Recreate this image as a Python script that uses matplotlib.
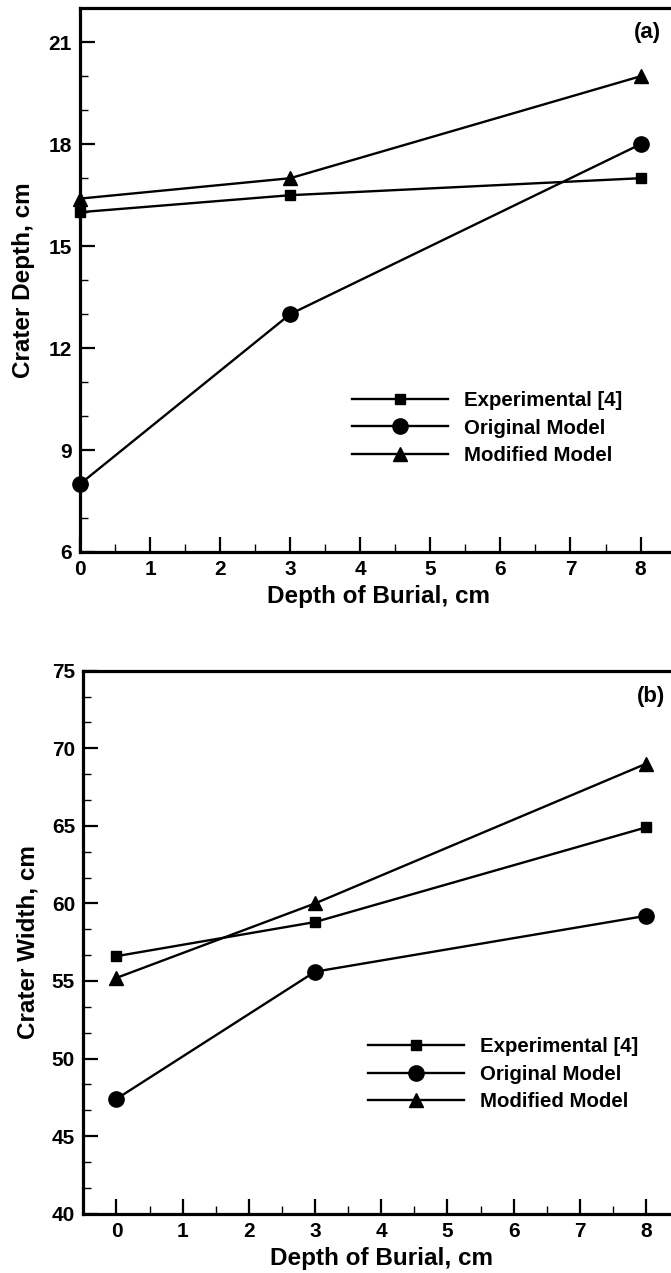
import matplotlib
matplotlib.use("Agg")
import matplotlib.pyplot as plt
from matplotlib.ticker import MultipleLocator

plt.rcParams['font.family'] = ['Liberation Sans', 'DejaVu Sans']
plt.rcParams['font.weight'] = 'bold'

burial = [0, 3, 8]
labels = ["Experimental [4]", "Original Model", "Modified Model"]
markers = ["s", "o", "^"]
msizes = [7.5, 11, 9.5]

depth_exp = [16.0, 16.5, 17.0]
depth_orig = [8.0, 13.0, 18.0]
depth_mod = [16.4, 17.0, 20.0]

width_exp = [56.6, 58.8, 64.9]
width_orig = [47.4, 55.6, 59.2]
width_mod = [55.2, 60.0, 69.0]

W, H = 671, 1273
fig = plt.figure(figsize=(W / 100, H / 100), dpi=100)

ax1 = fig.add_axes([80 / W, 1 - 552 / H, 595.6 / W, 543.7 / H])
ax2 = fig.add_axes([83.4 / W, 1 - 1213.7 / H, 595.7 / W, 543.0 / H])


def style(ax, xlim, ylim, ymaj, ymin):
    ax.set_xlim(*xlim)
    ax.set_ylim(*ylim)
    ax.xaxis.set_major_locator(MultipleLocator(1))
    ax.xaxis.set_minor_locator(MultipleLocator(0.5))
    ax.yaxis.set_major_locator(MultipleLocator(ymaj))
    ax.yaxis.set_minor_locator(MultipleLocator(ymin))
    for s in ax.spines.values():
        s.set_linewidth(2.3)
    ax.tick_params(which='major', direction='in', length=11, width=1.6,
                   labelsize=15, pad=6)
    ax.tick_params(which='minor', direction='in', length=6, width=1.0)
    ax.tick_params(top=False, right=False, which='both')
    for lab in ax.get_xticklabels() + ax.get_yticklabels():
        lab.set_fontweight('bold')


style(ax1, (0, 8.5), (6, 22), 3, 1)
style(ax2, (-0.5, 8.5), (40, 75), 5, 5 / 3)

for ax, series in ((ax1, (depth_exp, depth_orig, depth_mod)),
                   (ax2, (width_exp, width_orig, width_mod))):
    for vals, lab, mk, ms in zip(series, labels, markers, msizes):
        ax.plot(burial, vals, color='black', lw=1.7, marker=mk, ms=ms,
                label=lab, clip_on=False, zorder=3)

ax1.set_xlabel("Depth of Burial, cm", fontsize=17.5, fontweight='bold')
ax1.set_ylabel("Crater Depth, cm", fontsize=17.5, fontweight='bold')
ax2.set_xlabel("Depth of Burial, cm", fontsize=17.5, fontweight='bold')
ax2.set_ylabel("Crater Width, cm", fontsize=17.5, fontweight='bold')

ax1.xaxis.set_label_coords(0.502, -0.082)
ax1.xaxis.label.set_va('center')
ax1.yaxis.set_label_coords(-0.0957, 0.5)
ax1.yaxis.label.set_va('center')
ax2.xaxis.set_label_coords(0.501, -0.0816)
ax2.xaxis.label.set_va('center')
ax2.yaxis.set_label_coords(-0.093, 0.5)
ax2.yaxis.label.set_va('center')

ax1.text(0.953, 0.955, "(a)", transform=ax1.transAxes, fontsize=16,
         fontweight='bold', ha='center', va='center')
ax2.text(0.953, 0.953, "(b)", transform=ax2.transAxes, fontsize=16,
         fontweight='bold', ha='center', va='center')

for ax, anchor in ((ax1, (0.457, 0.228)), (ax2, (0.478, 0.257))):
    leg = ax.legend(loc='center left', bbox_to_anchor=anchor, frameon=False,
                    handlelength=4.7, handletextpad=0.8,
                    labelspacing=0.41, borderpad=0, borderaxespad=0,
                    prop={'weight': 'bold', 'size': 14.7})

fig.savefig("out.png", dpi=100)
